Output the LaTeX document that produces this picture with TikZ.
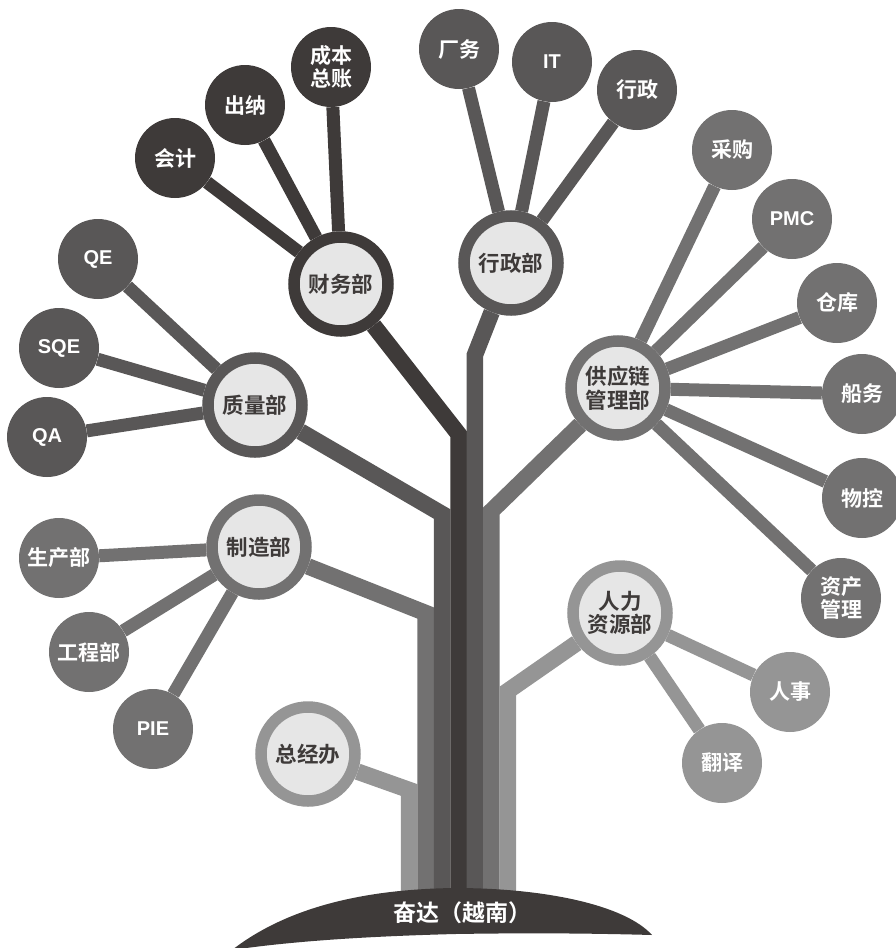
\documentclass[tikz,border=0pt]{standalone}
\usepackage{fontspec}
\usetikzlibrary{backgrounds}
\newfontfamily\cjk{Noto Sans CJK SC}[BoldFont={Noto Sans CJK SC Bold}]
\newfontfamily\lat{Liberation Sans}
\definecolor{darkbark}{HTML}{3E3A39}
\definecolor{greybark}{HTML}{595757}
\definecolor{midbark}{HTML}{727171}
\definecolor{lightbark}{HTML}{959595}
\definecolor{deptfill}{HTML}{E6E6E6}
\tikzset{
  dept/.style={circle,minimum size=94pt,inner sep=0pt,line width=11.5pt,draw=#1,fill=deptfill,
    text=darkbark,align=center,font=\cjk\bfseries\fontsize{21.5}{23.5}\selectfont},
  leaf/.style={circle,minimum size=80pt,inner sep=0pt,fill=#1,text=white,align=center,
    font=\cjk\bfseries\fontsize{21}{23.5}\selectfont},
  latleaf/.style={leaf=#1,font=\lat\bfseries\fontsize{20}{24}\selectfont},
  twig/.style={draw=#1,line width=13pt},
  limb/.style={draw=#1,line width=16.5pt,line join=miter}
}
\begin{document}
\begin{tikzpicture}[x=1pt,y=-1pt]
  \useasboundingbox (0,0) rectangle (895,948);
  % departments
  \node[dept=darkbark] (caiwu) at (341,284) {财务部};
  \node[dept=greybark] (xingzheng) at (511,263) {行政部};
  \node[dept=greybark] (zhiliang) at (255,405) {质量部};
  \node[dept=midbark] (zhizao) at (259,547) {制造部};
  \node[dept=lightbark] (zongjing) at (308,754) {总经办};
  \node[dept=midbark] (gongying) at (618,388) {供应链\\管理部};
  \node[dept=lightbark] (renli) at (620,613) {人力\\资源部};
  % finance
  \node[leaf=darkbark] (kuaiji) at (175,158) {会计};
  \node[leaf=darkbark] (chuna) at (245,105) {出纳};
  \node[leaf=darkbark] (chengben) at (331,67) {成本\\总账};
  % admin
  \node[leaf=greybark] (changwu) at (459,49) {厂务};
  \node[latleaf=greybark] (it) at (552,62) {IT};
  \node[leaf=greybark] (xz) at (637,90) {行政};
  % quality
  \node[latleaf=greybark] (qe) at (98,259) {QE};
  \node[latleaf=greybark] (sqe) at (59,348) {SQE};
  \node[latleaf=greybark] (qa) at (47,437) {QA};
  % manufacturing
  \node[leaf=midbark] (shengchan) at (59,558) {生产部};
  \node[leaf=midbark] (gongcheng) at (89,652) {工程部};
  \node[latleaf=midbark] (pie) at (153,729) {PIE};
  % supply chain
  \node[leaf=midbark] (caigou) at (732,150) {采购};
  \node[latleaf=midbark] (pmc) at (792,219) {PMC};
  \node[leaf=midbark] (cangku) at (837,303) {仓库};
  \node[leaf=midbark] (chuanwu) at (862,394) {船务};
  \node[leaf=midbark] (wukong) at (862,498) {物控};
  \node[leaf=midbark] (zichan) at (841,598) {资产\\管理};
  % hr
  \node[leaf=lightbark] (renshi) at (790,692) {人事};
  \node[leaf=lightbark] (fanyi) at (722,763) {翻译};
  % trunk bends
  \coordinate (bzongjing) at (409.2,790);
  \coordinate (bzhizao) at (425.6,613);
  \coordinate (bzhiliang) at (442.1,514);
  \coordinate (bcaiwu) at (458.5,434);
  \coordinate (bxingzheng) at (474.9,355);
  \coordinate (bgongying) at (491.4,511);
  \coordinate (brenli) at (507.8,691);
  \begin{scope}[on background layer]
    \draw[limb=lightbark] (zongjing) -- (bzongjing) -- (409.2,905);
    \draw[limb=midbark] (zhizao) -- (bzhizao) -- (425.6,905);
    \draw[limb=greybark] (zhiliang) -- (bzhiliang) -- (442.1,905);
    \draw[limb=darkbark] (caiwu) -- (bcaiwu) -- (458.5,905);
    \draw[limb=greybark] (xingzheng) -- (bxingzheng) -- (474.9,905);
    \draw[limb=midbark] (gongying) -- (bgongying) -- (491.4,905);
    \draw[limb=lightbark] (renli) -- (brenli) -- (507.8,905);
    \foreach \k in {kuaiji,chuna,chengben} \draw[twig=darkbark] (caiwu) -- (\k);
    \foreach \k in {changwu,it,xz} \draw[twig=greybark] (xingzheng) -- (\k);
    \foreach \k in {qe,sqe,qa} \draw[twig=greybark] (zhiliang) -- (\k);
    \foreach \k in {shengchan,gongcheng,pie} \draw[twig=midbark] (zhizao) -- (\k);
    \foreach \k in {caigou,pmc,cangku,chuanwu,wukong,zichan} \draw[twig=midbark] (gongying) -- (\k);
    \foreach \k in {renshi,fanyi} \draw[twig=lightbark] (renli) -- (\k);
  \end{scope}
  % ground
  \fill[darkbark] (232,950) .. controls (290,905) and (370,889) .. (455,888)
    .. controls (545,888) and (625,905) .. (652,935)
    .. controls (580,933) and (520,933) .. (455,934)
    .. controls (380,936) and (300,940) .. (232,950) -- cycle;
  \node[text=white,font=\cjk\bfseries\fontsize{23}{26}\selectfont] (ground) at (462,913) {奋达（越南）};
\end{tikzpicture}
\end{document}
